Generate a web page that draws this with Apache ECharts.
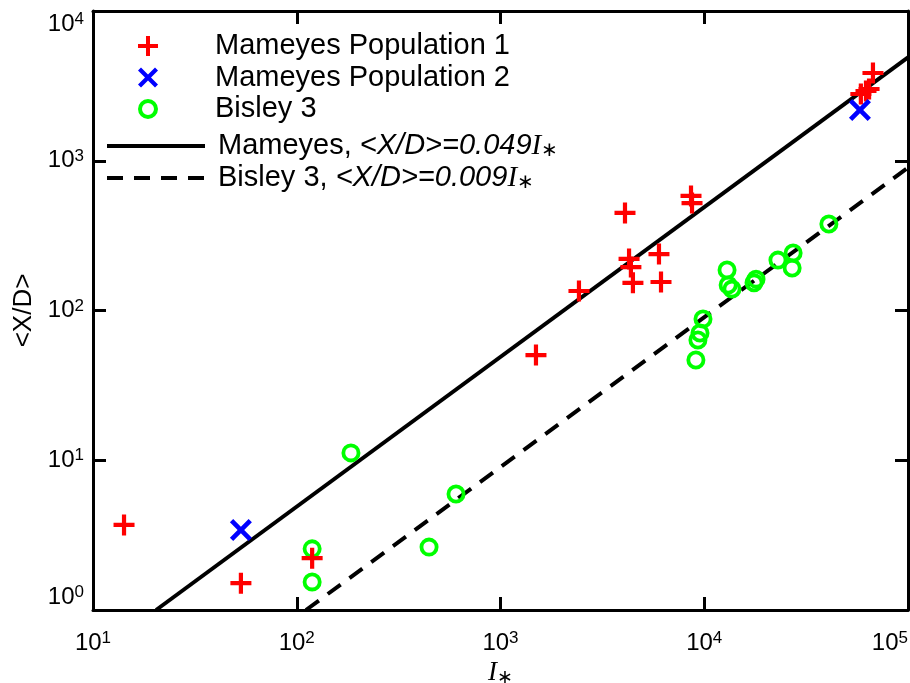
<!DOCTYPE html>
<html><head><meta charset="utf-8">
<script src="https://cdn.jsdelivr.net/npm/echarts@6/dist/echarts.min.js"></script>
<style>html,body{margin:0;padding:0;background:#fff}#c{width:910px;height:683px}</style>
</head><body><div id="c"></div>
<script>
// ---- data ----
const mameyes1X = [14.2, 53.2, 119, 1493, 2427, 4083, 4275, 4365, 4466, 5995, 6134, 8610, 8710, 58700, 62200, 64400, 67300];
const mameyes1Y = [3.7, 1.51, 2.22, 50.4, 135, 448, 221, 195, 153, 238, 155, 582, 522, 2790, 2923, 3015, 3855];
const mameyes2X = [53.2, 58100];
const mameyes2Y = [3.42, 2183];
const bisleyX = [119, 119, 184.5, 446, 605, 9100, 9310, 9530, 9860, 12940, 13100, 13680, 17550, 17950, 23000, 27000, 27300, 40900];
const bisleyY = [2.56, 1.54, 11.2, 2.63, 5.95, 46.7, 63.5, 70.8, 87.8, 186.4, 148, 139, 153, 162, 217, 192, 242, 378];
const fitMameyesX = [20.4, 100000];
const fitMameyesY = [1, 4900];
const fitBisleyX = [111, 100000];
const fitBisleyY = [1, 900];
const names = ['Mameyes Population 1', 'Mameyes Population 2', 'Bisley 3',
  'Mameyes, <X/D>=0.049I∗', 'Bisley 3, <X/D>=0.009I∗'];
const xRange = [10, 100000];
const yRange = [1, 10000];

const SANS = 'Liberation Sans, Arial, Helvetica, sans-serif';
const SERIF = 'Liberation Serif, Times New Roman, serif';
const PLUS = 'path://M-2,-10H2V-2H10V2H2V10H-2V2H-10V-2H-2Z';
const CROSS = 'path://M-10,-7L-7,-10L0,-3L7,-10L10,-7L3,0L10,7L7,10L0,3L-7,10L-10,7L-3,0Z';
const RING = 'path://M0,-10A10,10 0 1,1 0,10A10,10 0 1,1 0,-10ZM0,-6A6,6 0 1,0 0,6A6,6 0 1,0 0,-6Z';

const pairs = (xs, ys) => xs.map((x, i) => [x, ys[i]]);
const tickFmt = v => '{b|10}{s|' + Math.round(Math.log10(v)) + '}';
const tickRich = {
  b: {fontFamily: SANS, fontSize: 24, color: '#000', lineHeight: 26},
  s: {fontFamily: SANS, fontSize: 17, color: '#000', verticalAlign: 'top', lineHeight: 17}
};
const frameLine = {show: true, onZero: false, lineStyle: {color: '#000', width: 3}};
const tick = {show: true, inside: true, length: 13, lineStyle: {color: '#000', width: 3}};

const FS = 29;
const legendRich = {
  sp1: {width: 52},
  sp2: {width: 8},
  n: {fontFamily: SANS, fontSize: FS, color: '#000'},
  it: {fontFamily: SANS, fontSize: FS, fontStyle: 'italic', color: '#000'},
  I: {fontFamily: SERIF, fontSize: FS, fontStyle: 'italic', color: '#000'},
  st: {fontFamily: SANS, fontSize: 20, color: '#000', padding: [8, 0, 0, 0]}
};
const legendFmt = name => {
  if (name === names[3]) return '{sp2| }{n|Mameyes, }{it|<X/D>=0.049}{I|I}{st|∗}';
  if (name === names[4]) return '{sp2| }{n|Bisley 3, }{it|<X/D>=0.009}{I|I}{st|∗}';
  return '{sp1| }{n|' + name + '}';
};

const chart = echarts.init(document.getElementById('c'), null, {renderer: 'canvas'});
chart.setOption({
  animation: false,
  backgroundColor: '#fff',
  grid: {left: 93, right: 2, top: 11, bottom: 73, containLabel: false, outerBoundsMode: 'none'},
  legend: [
    {data: names.slice(0, 3), orient: 'vertical', left: 138, top: 31, padding: 0, itemWidth: 20, itemHeight: 20,
     itemGap: 1.5, selectedMode: false, formatter: legendFmt,
     textStyle: {fontFamily: SANS, fontSize: FS, lineHeight: 30, rich: legendRich}},
    {data: names.slice(3), orient: 'vertical', left: 105, top: 131, padding: 0, itemWidth: 98, itemHeight: 14,
     itemGap: 2, selectedMode: false, formatter: legendFmt, itemStyle: {opacity: 0},
     lineStyle: {width: 4, color: '#000'},
     textStyle: {fontFamily: SANS, fontSize: FS, lineHeight: 30, rich: legendRich}}
  ],
  xAxis: [
    {type: 'log', logBase: 10, min: xRange[0], max: xRange[1], position: 'bottom',
     axisLine: frameLine, axisTick: tick, minorTick: {show: false}, splitLine: {show: false},
     axisLabel: {margin: 20, formatter: tickFmt, rich: tickRich, alignMaxLabel: 'right'},
     name: '{i|I}{s|∗}', nameLocation: 'middle', nameGap: 43,
     nameTextStyle: {rich: {
       i: {fontFamily: SERIF, fontSize: 27, fontStyle: 'italic', color: '#000'},
       s: {fontFamily: SANS, fontSize: 19, color: '#000', padding: [8, 0, 0, 0]}}}},
    {type: 'log', logBase: 10, min: xRange[0], max: xRange[1], position: 'top',
     axisLine: frameLine, axisTick: tick, minorTick: {show: false}, splitLine: {show: false},
     axisLabel: {show: false}}
  ],
  yAxis: [
    {type: 'log', logBase: 10, min: yRange[0], max: yRange[1], position: 'left',
     axisLine: frameLine, axisTick: tick, minorTick: {show: false}, splitLine: {show: false},
     axisLabel: {margin: 9, formatter: tickFmt, rich: tickRich,
       verticalAlignMaxLabel: 'top', verticalAlignMinLabel: 'bottom'},
     name: '<X/D>', nameLocation: 'middle', nameGap: 53,
     nameTextStyle: {fontFamily: SANS, fontSize: 26, color: '#000'}},
    {type: 'log', logBase: 10, min: yRange[0], max: yRange[1], position: 'right',
     axisLine: frameLine, axisTick: tick, minorTick: {show: false}, splitLine: {show: false},
     axisLabel: {show: false}}
  ],
  series: [
    {name: names[3], type: 'line', data: pairs(fitMameyesX, fitMameyesY), symbol: 'none', showSymbol: false,
     clip: true, z: 1, lineStyle: {color: '#000', width: 4, type: 'solid'}, itemStyle: {color: 'rgba(0,0,0,0)'}},
    {name: names[4], type: 'line', data: pairs(fitBisleyX, fitBisleyY), symbol: 'none', showSymbol: false,
     clip: true, z: 1, lineStyle: {color: '#000', width: 4, type: [16, 11]}, itemStyle: {color: 'rgba(0,0,0,0)'}},
    {name: names[2], type: 'scatter', data: pairs(bisleyX, bisleyY), symbol: RING, symbolSize: 19,
     z: 3, itemStyle: {color: '#00ff00', opacity: 1}},
    {name: names[0], type: 'scatter', data: pairs(mameyes1X, mameyes1Y), symbol: PLUS, symbolSize: 21,
     z: 4, itemStyle: {color: '#ff0000', opacity: 1}},
    {name: names[1], type: 'scatter', data: pairs(mameyes2X, mameyes2Y), symbol: CROSS, symbolSize: 22,
     z: 4, itemStyle: {color: '#0000ff', opacity: 1}}
  ]
});
</script></body></html>
